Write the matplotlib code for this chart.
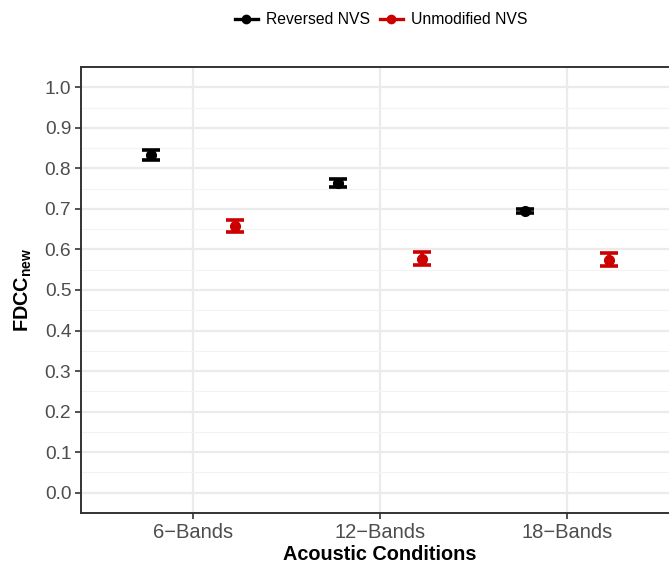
import matplotlib.pyplot as plt
import numpy as np
from matplotlib.ticker import MultipleLocator

plt.rcParams["font.family"] = ["Liberation Sans", "DejaVu Sans"]
plt.rcParams["mathtext.fontset"] = "custom"
plt.rcParams["mathtext.bf"] = "Liberation Sans:bold"
plt.rcParams["mathtext.rm"] = "Liberation Sans"

conditions = ["6\u2212Bands", "12\u2212Bands", "18\u2212Bands"]
reversed_mean = [0.833, 0.764, 0.694]
reversed_err = [0.013, 0.009, 0.005]
unmodified_mean = [0.658, 0.577, 0.575]
unmodified_err = [0.015, 0.016, 0.016]

series = [
    ("Reversed NVS", reversed_mean, reversed_err, "black", -0.225),
    ("Unmodified NVS", unmodified_mean, unmodified_err, "#CC0000", 0.225),
]

fig = plt.figure(figsize=(6.69, 5.66), dpi=100)
ax = fig.add_axes([81 / 669, 53 / 566, 598 / 669, 446 / 566])

x = np.arange(1, len(conditions) + 1)
handles = []
for label, mean, err, color, offset in series:
    ax.errorbar(x + offset, mean, yerr=err, fmt="none", ecolor=color,
                elinewidth=2.6, capsize=6.2, capthick=2.6, zorder=3)
    ax.plot(x + offset, mean, "o", color=color, markersize=7, zorder=4)
    h, = ax.plot([], [], "-o", color=color, lw=2.4, markersize=6, label=label)
    handles.append(h)

ax.set_xlim(0.4, 3.6)
ax.set_ylim(-0.05, 1.05)
ax.set_xticks(x)
ax.set_xticklabels(conditions)
ax.yaxis.set_major_locator(MultipleLocator(0.1))
ax.yaxis.set_minor_locator(MultipleLocator(0.05))
ax.yaxis.set_major_formatter(plt.FormatStrFormatter("%.1f"))

ax.grid(which="major", color="#EBEBEB", linewidth=1.6, zorder=0)
ax.grid(which="minor", axis="y", color="#F3F3F3", linewidth=0.8, zorder=0)
ax.set_axisbelow(True)

for side in ["left", "bottom", "top", "right"]:
    ax.spines[side].set_color("#333333")
    ax.spines[side].set_linewidth(1.4)

ax.tick_params(which="major", length=4, width=1.2, color="#333333",
               labelcolor="#4D4D4D", pad=3)
ax.tick_params(axis="y", labelsize=13.8)
ax.tick_params(axis="x", labelsize=14.5)
ax.tick_params(which="minor", length=0)

ax.set_xlabel("Acoustic Conditions", fontsize=14.3, fontweight="bold", labelpad=2)
ax.set_ylabel(r"$\mathbf{FDCC}_{\mathbf{new}}$", fontsize=14.3, labelpad=8)

fig.legend(handles=handles, loc="center", bbox_to_anchor=(381 / 669, 1 - 20 / 566),
           ncol=2, frameon=False, fontsize=11.3, handlelength=1.5,
           handletextpad=0.5, columnspacing=0.6)

fig.savefig("out.png", dpi=100)
